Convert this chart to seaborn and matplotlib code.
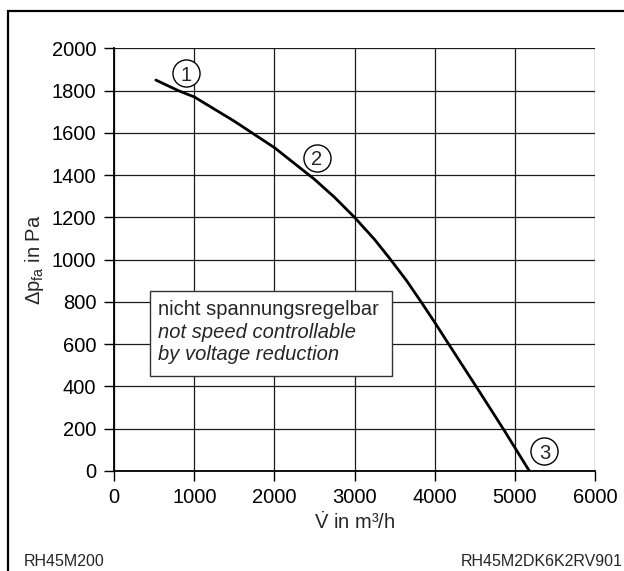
import matplotlib
matplotlib.use("Agg")
import matplotlib.pyplot as plt
import seaborn as sns
import pandas as pd
from matplotlib.patches import Rectangle

# fan curve
flow = [520, 800, 1000, 1500, 2000, 2500, 2750, 3000, 3250, 3450, 3650, 3830,
        4000, 4200, 4550, 4870, 5180]
pressure = [1850, 1800, 1770, 1655, 1530, 1380, 1295, 1200, 1095, 1000, 900, 800,
            703, 585, 380, 190, 0]

# operating point markers
point_labels = ["1", "2", "3"]
point_x = [896, 2527, 5368]
point_y = [1882, 1483, 94]

x_ticks = [0, 1000, 2000, 3000, 4000, 5000, 6000]
y_ticks = [0, 200, 400, 600, 800, 1000, 1200, 1400, 1600, 1800, 2000]

note_lines = ["nicht spannungsregelbar", "not speed controllable", "by voltage reduction"]
note_styles = ["normal", "italic", "italic"]
note_y = [738, 628, 525]

sns.set_style("ticks")
plt.rcParams["font.family"] = ["Liberation Sans", "DejaVu Sans"]
plt.rcParams["mathtext.fontset"] = "custom"
plt.rcParams["mathtext.rm"] = "Liberation Sans"
plt.rcParams["mathtext.it"] = "Liberation Sans:italic"

FS = 14.5

fig = plt.figure(figsize=(6.24, 5.71), dpi=100)
ax = fig.add_axes([0.183, 0.1753, 0.7705, 0.74])

df = pd.DataFrame({"flow": flow, "pressure": pressure})
sns.lineplot(data=df, x="flow", y="pressure", sort=False, color="black",
             linewidth=2.0, ax=ax, zorder=4)

ax.set_xlim(0, 6000)
ax.set_ylim(0, 2000)
ax.set_xticks(x_ticks)
ax.set_yticks(y_ticks)
ax.grid(True, color="#1a1a1a", linewidth=0.9)
ax.set_axisbelow(True)
for s in ["top", "right"]:
    ax.spines[s].set_visible(False)
for s in ["left", "bottom"]:
    ax.spines[s].set_linewidth(1.3)
    ax.spines[s].set_color("black")
ax.tick_params(axis="both", direction="out", length=7, width=1.0, labelsize=FS,
               colors="black")
ax.tick_params(axis="x", pad=5)
ax.tick_params(axis="y", pad=6)

ax.set_xlabel(r"$\dot{\mathrm{V}}$ in m³/h", fontsize=FS, labelpad=3)
ax.set_ylabel(r"Δp$_{\mathrm{fa}}$ in Pa", fontsize=FS, labelpad=4)

# circled point numbers
ax.plot(point_x, point_y, linestyle="none", marker="o", markersize=19.5,
        markerfacecolor="white", markeredgecolor="black", markeredgewidth=1.0,
        zorder=5)
for lab, px, py in zip(point_labels, point_x, point_y):
    ax.text(px, py, lab, ha="center", va="center_baseline", fontsize=FS, zorder=6)

# note box
ax.add_patch(Rectangle((447, 449), 3463 - 447, 852 - 449, facecolor="white",
                       edgecolor="#333333", linewidth=1.0, zorder=5))
for line, st, ly in zip(note_lines, note_styles, note_y):
    ax.text(545, ly, line, fontsize=FS, va="baseline", style=st, zorder=6)

# footer and figure frame (only left and top edges visible)
fig.text(24 / 624, 1 - 561 / 571, "RH45M200", fontsize=11.5, va="center", ha="left")
fig.text(623 / 624, 1 - 561 / 571, "RH45M2DK6K2RV901", fontsize=11.5, va="center", ha="right")
fig.patches.append(Rectangle((7.5 / 624, -0.1), 1.2, 1 - 10.5 / 571 + 0.1,
                             transform=fig.transFigure, fill=False,
                             edgecolor="black", linewidth=1.6))

fig.savefig("out.png", dpi=100)
